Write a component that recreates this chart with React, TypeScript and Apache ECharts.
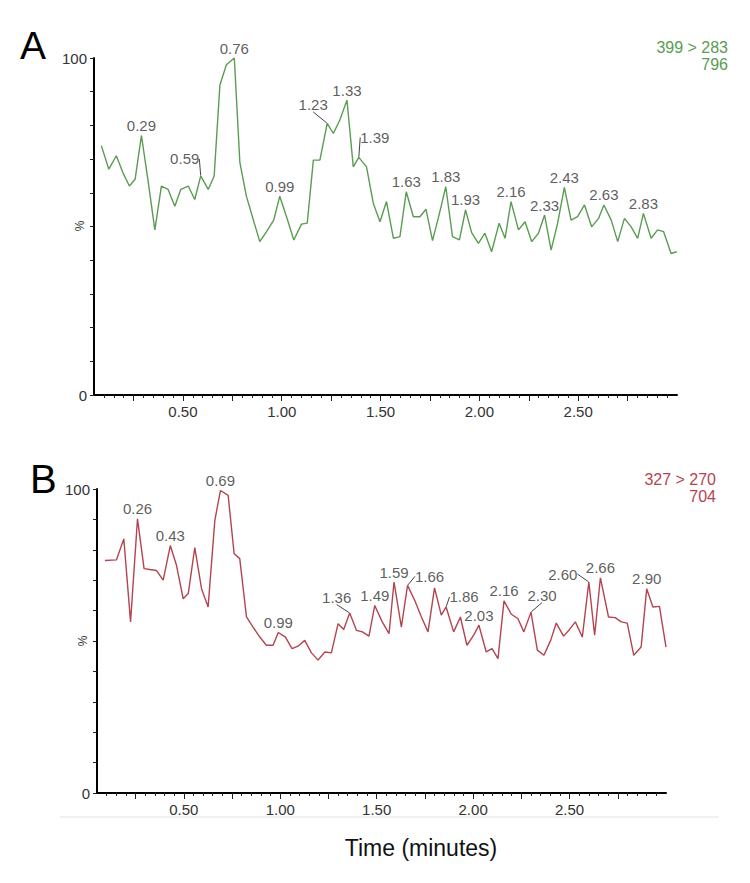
import React, { useEffect, useRef } from "react";
import * as echarts from "echarts";

// ---------- DATA ----------
// Panel A trace: [time (min), relative intensity %]
const traceA: [number, number][] = [
  [0.087, 74], [0.125, 67], [0.163, 71], [0.196, 66], [0.229, 62], [0.258, 64], [0.29, 77],
  [0.32, 65], [0.358, 49], [0.391, 62], [0.425, 61], [0.459, 56], [0.489, 61], [0.527, 62],
  [0.56, 58], [0.59, 65], [0.628, 61], [0.658, 65], [0.687, 92], [0.72, 98], [0.76, 100],
  [0.788, 69], [0.821, 59], [0.856, 52], [0.889, 45.5], [0.923, 48.5], [0.96, 52], [0.99, 59],
  [1.029, 52], [1.061, 46], [1.1, 50.7], [1.129, 51], [1.16, 69.7], [1.193, 69.7], [1.23, 80.6],
  [1.261, 77.6], [1.294, 81.6], [1.33, 87.5], [1.362, 67.7], [1.39, 70.5], [1.429, 67.7],
  [1.463, 56.9], [1.497, 51.4], [1.53, 57.4], [1.565, 46.5], [1.598, 47], [1.63, 60.3],
  [1.666, 52.9], [1.699, 52.9], [1.73, 55.1], [1.763, 45.8], [1.798, 53.9], [1.83, 61.8],
  [1.864, 47], [1.899, 46], [1.93, 54.9], [1.961, 48.2], [1.995, 45], [2.028, 48], [2.062, 42.5],
  [2.1, 51], [2.13, 46.5], [2.16, 57.4], [2.198, 49], [2.231, 51.4], [2.265, 45.5], [2.299, 48],
  [2.33, 53.4], [2.363, 43], [2.396, 51], [2.43, 61.6], [2.464, 51.9], [2.497, 52.9],
  [2.532, 56.4], [2.568, 49.9], [2.603, 52.4], [2.63, 56.4], [2.667, 51.9], [2.7, 45.5],
  [2.734, 52.4], [2.768, 49.9], [2.801, 46.5], [2.83, 53.9], [2.869, 46.5], [2.902, 49],
  [2.932, 48.5], [2.97, 42], [2.999, 42.5],
];
const peakLabelsA = ["0.29", "0.59", "0.76", "0.99", "1.23", "1.33", "1.39", "1.63", "1.83", "1.93", "2.16", "2.33", "2.43", "2.63", "2.83"];

// Panel B trace
const traceB: [number, number][] = [
  [0.091, 76.5], [0.151, 76.7], [0.189, 83.6], [0.224, 56.3], [0.26, 90.2], [0.294, 73.8],
  [0.324, 73.5], [0.358, 73.2], [0.393, 70], [0.43, 81.4], [0.462, 74.9], [0.497, 63.9],
  [0.523, 65.6], [0.557, 80.7], [0.592, 67.2], [0.626, 61.2], [0.661, 89.7], [0.69, 99.5],
  [0.73, 97.9], [0.761, 78.7], [0.79, 77.1], [0.825, 57.9], [0.859, 54.6], [0.894, 51.3],
  [0.928, 48.6], [0.963, 48.6], [0.99, 52.8], [1.027, 51.3], [1.061, 47.5], [1.092, 48.3],
  [1.127, 50.2], [1.162, 46.1], [1.196, 43.7], [1.231, 46.4], [1.265, 46.1], [1.3, 55.7],
  [1.329, 53.8], [1.36, 59.2], [1.395, 53.5], [1.426, 53], [1.46, 51.6], [1.49, 61.7],
  [1.529, 56.3], [1.564, 52.4], [1.59, 69.4], [1.628, 54.6], [1.66, 68.3], [1.697, 63.4],
  [1.732, 57.9], [1.766, 53], [1.8, 67.5], [1.835, 58.5], [1.86, 61.2], [1.899, 53],
  [1.934, 57.9], [1.968, 48.6], [2.003, 51.9], [2.03, 55.2], [2.068, 46.4], [2.098, 47.5],
  [2.129, 44.2], [2.16, 63.2], [2.198, 58.8], [2.232, 57.4], [2.263, 53], [2.3, 59.5],
  [2.333, 47], [2.367, 45.3], [2.402, 50.2], [2.431, 55.9], [2.469, 51.6], [2.5, 53.8],
  [2.53, 56.3], [2.566, 51.3], [2.6, 69.4], [2.63, 51.9], [2.66, 70.8], [2.702, 57.9],
  [2.737, 57.7], [2.768, 56.3], [2.799, 55.9], [2.833, 45.3], [2.871, 48], [2.9, 67.2],
  [2.932, 61.2], [2.966, 61.4], [3.0, 48],
];
const peakLabelsB = ["0.26", "0.43", "0.69", "0.99", "1.36", "1.49", "1.59", "1.66", "1.86", "2.03", "2.16", "2.30", "2.60", "2.66", "2.90"];

const xLabelValues = [0.5, 1.0, 1.5, 2.0, 2.5];
const xMajorTicks = [0.25, 0.5, 0.75, 1.0, 1.25, 1.5, 1.75, 2.0, 2.25, 2.5, 2.75];
const yLabelValues = [0, 100];
const yUnitLabel = "%";
const transitionA = ["399 > 283", "796"];
const transitionB = ["327 > 270", "704"];
const panelLetters = ["A", "B"];
const xAxisTitle = "Time (minutes)";

// ---------- STYLE / LAYOUT ----------
const FONT = '"Liberation Sans", Arial, sans-serif';
const GREEN = "#5a9c52";
const RED = "#b4444f";
const TEXT = "#333";
const X_MIN = 0.05;
const X_MAX = 3.0;

const leaderA: Record<string, [number, number]> = { "0.59": [-16, -7], "1.23": [-14, -9], "1.39": [16, -10] };
const leaderB: Record<string, [number, number]> = {
  "1.36": [-13, -6], "1.66": [22, 1], "1.86": [18, 0], "2.30": [11, -7], "2.60": [-26, 2],
};

const minorTicks: number[] = [];
for (let i = 2; i <= 59; i++) {
  if (i % 5 !== 0) minorTicks.push(+(i * 0.05).toFixed(2));
}

function peakPoints(trace: [number, number][], labels: string[], leaders: Record<string, [number, number]>) {
  return labels.map((lbl) => {
    const t = parseFloat(lbl);
    let best = trace[0];
    for (const p of trace) if (Math.abs(p[0] - t) < Math.abs(best[0] - t)) best = p;
    const item: any = { value: [best[0], best[1]], name: lbl };
    if (leaders[lbl]) item.labelLine = { show: true };
    return item;
  });
}

function xAxesFor(gridIndex: number) {
  return [
    {
      type: "value", gridIndex, min: X_MIN, max: X_MAX, position: "bottom",
      axisLine: { show: true, onZero: false, lineStyle: { color: "#000", width: 2 } },
      axisTick: { show: true, customValues: xMajorTicks, length: 6, lineStyle: { color: "#222", width: 1 } },
      axisLabel: {
        show: true, customValues: xLabelValues, formatter: (v: number) => v.toFixed(2),
        margin: 9, color: TEXT, fontSize: 15, fontFamily: FONT,
      },
      splitLine: { show: false },
    },
    {
      type: "value", gridIndex, min: X_MIN, max: X_MAX, position: "bottom",
      axisLine: { show: false },
      axisTick: { show: true, customValues: minorTicks, length: 3, lineStyle: { color: "#222", width: 1 } },
      axisLabel: { show: false },
      splitLine: { show: false },
    },
  ];
}

function yAxisFor(gridIndex: number) {
  return {
    type: "value", gridIndex, min: 0, max: 100, interval: 10,
    axisLine: { show: true, lineStyle: { color: "#000", width: 2 } },
    axisTick: { show: true, length: 4, lineStyle: { color: "#222", width: 1 } },
    axisLabel: {
      show: true, customValues: yLabelValues, margin: 7, color: TEXT, fontSize: 15, fontFamily: FONT,
    },
    splitLine: { show: false },
  };
}

function peakSeries(xAxisIndex: number, yAxisIndex: number, data: any[], leaders: Record<string, [number, number]>) {
  return {
    type: "scatter", xAxisIndex, yAxisIndex, data, symbol: "circle", symbolSize: 1, z: 5,
    itemStyle: { color: "transparent" },
    label: {
      show: true, position: "top", distance: 2, formatter: (p: any) => p.name,
      color: TEXT, fontSize: 15, fontFamily: FONT,
    },
    labelLine: { show: false, lineStyle: { color: "#444", width: 1 } },
    labelLayout: (p: any) => {
      const name = data[p.dataIndex] && data[p.dataIndex].name;
      const off = leaders[name];
      return off ? { dx: off[0], dy: off[1] } : {};
    },
    silent: true,
  };
}

export default function App() {
  const ref = useRef<HTMLDivElement>(null);
  useEffect(() => {
    if (!ref.current) return;
    const chart = echarts.init(ref.current, null, { renderer: "svg" });
    const peaksA = peakPoints(traceA, peakLabelsA, leaderA);
    const peaksB = peakPoints(traceB, peakLabelsB, leaderB);
    const option: any = {
      animation: false,
      backgroundColor: "#fff",
      grid: [
        { left: 94, top: 58, width: 583, height: 337 },
        { left: 97, top: 489, width: 569, height: 304 },
      ],
      xAxis: [...xAxesFor(0), ...xAxesFor(1)],
      yAxis: [yAxisFor(0), yAxisFor(1)],
      series: [
        {
          type: "line", xAxisIndex: 0, yAxisIndex: 0, data: traceA, symbol: "none",
          lineStyle: { color: GREEN, width: 1.4 }, silent: true,
        },
        peakSeries(0, 0, peaksA, leaderA),
        {
          type: "line", xAxisIndex: 2, yAxisIndex: 1, data: traceB, symbol: "none",
          lineStyle: { color: RED, width: 1.4 }, silent: true,
        },
        peakSeries(2, 1, peaksB, leaderB),
      ],
      graphic: [
        { type: "text", x: 20, y: 45, style: { text: panelLetters[0], font: `39px ${FONT}`, fill: "#000", textAlign: "left", textVerticalAlign: "middle" } },
        { type: "text", x: 30, y: 479, style: { text: panelLetters[1], font: `40px ${FONT}`, fill: "#000", textAlign: "left", textVerticalAlign: "middle" } },
        { type: "text", x: 728, y: 47, style: { text: transitionA[0], font: `16px ${FONT}`, fill: GREEN, textAlign: "right", textVerticalAlign: "middle" } },
        { type: "text", x: 728, y: 64, style: { text: transitionA[1], font: `16px ${FONT}`, fill: GREEN, textAlign: "right", textVerticalAlign: "middle" } },
        { type: "text", x: 716, y: 479, style: { text: transitionB[0], font: `16px ${FONT}`, fill: RED, textAlign: "right", textVerticalAlign: "middle" } },
        { type: "text", x: 716, y: 496, style: { text: transitionB[1], font: `16px ${FONT}`, fill: RED, textAlign: "right", textVerticalAlign: "middle" } },
        { type: "text", x: 80, y: 226, rotation: Math.PI / 2, style: { text: yUnitLabel, font: `12px ${FONT}`, fill: TEXT, textAlign: "center", textVerticalAlign: "middle" } },
        { type: "text", x: 83, y: 641, rotation: Math.PI / 2, style: { text: yUnitLabel, font: `12px ${FONT}`, fill: TEXT, textAlign: "center", textVerticalAlign: "middle" } },
        { type: "line", shape: { x1: 60, y1: 817, x2: 719, y2: 817 }, style: { stroke: "#ececec", lineWidth: 1.5 } },
        { type: "text", x: 421, y: 848, style: { text: xAxisTitle, font: `23px ${FONT}`, fill: "#111", textAlign: "center", textVerticalAlign: "middle" } },
      ],
    };
    chart.setOption(option);
    return () => chart.dispose();
  }, []);
  return <div ref={ref} style={{ position: "absolute", left: 0, top: 0, width: 750, height: 883 }} />;
}
